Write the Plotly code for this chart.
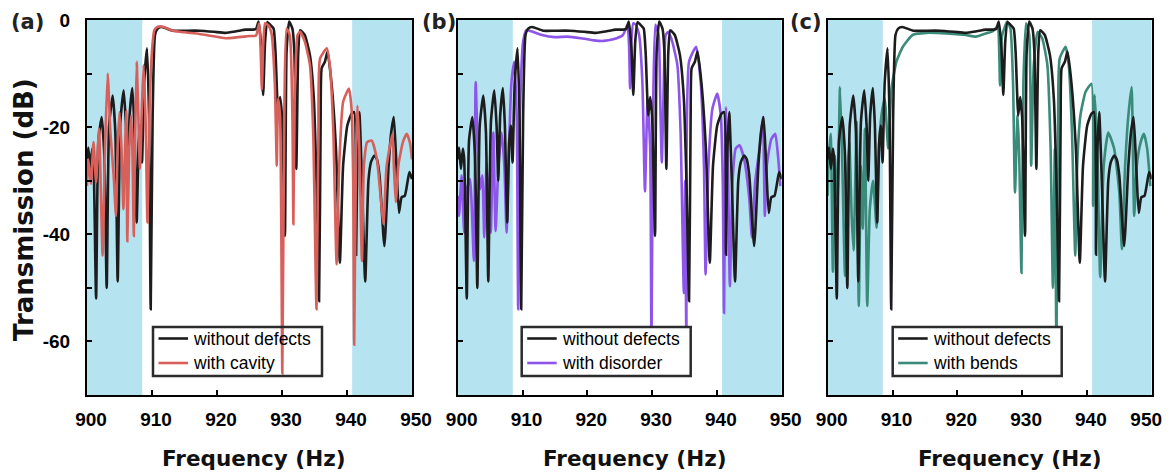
import plotly.graph_objects as go

# ---------------- data ----------------
freq_black = [900.0, 900.2, 900.5, 900.8, 901.0, 901.4, 901.75, 902.26, 902.67, 903.03, 903.4, 903.95,
              904.36, 904.72, 905.13, 905.64, 906.0, 906.26, 906.56, 906.97, 907.28, 907.64, 907.95,
              908.2, 908.46, 908.8, 909.23, 909.54, 909.8, 910.1, 910.46, 910.87, 911.5, 913.2, 915.0,
              917.3, 919.5, 921.3, 923.0, 924.4, 925.5, 926.0, 926.4, 926.8, 927.1, 927.4, 927.75,
              928.2, 928.7, 929.0, 929.4, 929.7, 930.0, 930.45, 930.7, 931.1, 931.6, 931.9, 932.2,
              932.5, 932.8, 933.5, 934.3, 934.9, 935.3, 935.7, 935.95, 936.1, 936.6, 937.0, 937.6,
              938.3, 938.9, 939.4, 940.05, 940.7, 941.1, 941.4, 941.6, 941.9, 942.3, 942.8, 943.3,
              943.7, 944.2, 944.6, 945.0, 945.75, 946.4, 946.8, 947.2, 947.6, 948.0, 948.4, 948.9,
              949.6, 950.0]
trans_black = [-26, -23.8, -27.8, -24, -26, -52, -22.5, -18.1, -25.3, -50, -19.7, -14.1,
               -21, -48.8, -19, -13.1, -19.7, -30, -17.8, -12.7, -19.7, -37.8, -22.8,
               -19.7, -26.6, -11.6, -5.3, -17.8, -54, -17.8, -2.8, -1.6, -1.3, -2.0, -2.0,
               -2.0, -2.2, -2.4, -2.1, -1.8, -1.8, -1.7, -0.3, -5, -14, -4, -0.4,
               -0.9, -1.6, -6, -17.8, -14.4, -18, -40.3, -6, -0.3, -1.6, -6, -27.8,
               -6, -1.9, -2.8, -6.6, -14.7, -30, -52.5, -17.8, -9, -7.8, -5.9, -11.6,
               -24, -45.3, -27.2, -19.7, -17.5, -17.2, -43.8, -25, -17.2, -30, -48.8, -30,
               -26.5, -25.3, -26, -29, -42.2, -27.2, -21, -18.1, -27, -36, -33.1, -32.8,
               -28.4, -29.7]

freq_cavity = [900.0, 900.2, 900.6, 901.0, 901.4, 901.85, 902.4, 902.77, 903.18, 903.6, 904.1, 904.46,
               904.7, 905.0, 905.3, 905.6, 905.85, 906.05, 906.2, 906.5, 906.8, 907.0, 907.2, 907.4,
               907.64, 907.9, 908.15, 908.4, 908.7, 909.0, 909.3, 909.6, 909.95, 910.36, 910.9, 911.7,
               913.2, 915.0, 917.3, 919.3, 921.3, 923.3, 925.0, 926.0, 926.5, 926.7, 926.9, 927.1,
               927.4, 927.9, 928.4, 928.9, 929.2, 929.4, 929.7, 930.05, 930.35, 930.7, 931.2, 931.6,
               931.75, 931.95, 932.4, 932.8, 933.5, 934.3, 934.8, 935.3, 935.6, 935.85, 936.9, 937.4,
               937.9, 938.4, 938.8, 939.4, 940.3, 940.7, 940.95, 941.1, 941.4, 941.6, 941.9, 942.3,
               942.6, 943.1, 943.8, 944.6, 945.2, 945.6, 946.1, 947.0, 947.2, 947.5, 947.9, 948.6,
               949.2, 949.7, 950.0]
trans_cavity = [-31, -26, -30.6, -22.8, -30.3, -20.3, -44, -24, -10, -21, -29, -36.6,
                -24, -17.2, -24, -35.3, -24, -16.9, -41.3, -24, -17.8, -25, -40.3, -22,
                -7.8, -18, -27.8, -18, -8.4, -18, -37.8, -18, -6.6, -1.9, -1.25, -1.25,
                -2.0, -2.3, -2.6, -3.0, -3.4, -3.2, -3.0, -2.9, -0.6, -5, -13, -5,
                -0.6, -1.0, -2.6, -12, -27.2, -14.7, -18, -66, -18, -1.6, -2.8, -18,
                -38.1, -15, -2.8, -2.2, -4, -8.4, -21, -54, -21, -7.2, -5.3, -9,
                -21, -45.6, -27.2, -15.3, -12.8, -16.6, -30, -60.6, -24, -16, -24, -45,
                -27.2, -22.8, -22.5, -26, -33.4, -38.1, -27.2, -21.25, -27, -34, -27.2, -22.8,
                -21.25, -23, -26]

freq_disorder = [900.0, 900.2, 900.6, 901.0, 901.4, 901.9, 902.5, 902.77, 903.1, 903.45, 903.8, 904.1,
                 904.46, 904.8, 905.1, 905.5, 905.85, 906.26, 906.77, 907.2, 907.54, 907.9, 908.3, 908.72,
                 909.1, 909.33, 909.6, 910.1, 910.6, 911.1, 913.0, 915.0, 917.0, 919.0, 921.0, 922.5,
                 924.0, 925.5, 926.2, 926.45, 926.6, 926.8, 927.1, 927.5, 928.0, 928.5, 928.9, 929.3,
                 929.7, 929.9, 930.15, 930.5, 931.0, 931.3, 931.5, 931.75, 932.1, 932.5, 933.1, 933.9,
                 934.4, 934.9, 935.1, 935.3, 935.7, 936.8, 937.5, 938.0, 938.25, 938.7, 939.3, 940.05,
                 940.6, 940.9, 941.1, 941.3, 941.4, 941.7, 942.0, 942.4, 942.9, 943.5, 944.2, 945.0,
                 945.4, 945.9, 946.7, 947.1, 947.4, 947.7, 948.4, 949.0, 949.4, 949.8]
trans_disorder = [-32.8, -36.6, -29, -39.7, -31.6, -29.7, -45, -11.6, -24, -31.6, -29, -40.6,
                  -26.6, -33.4, -39.7, -21, -39.4, -27.8, -21, -27.2, -39.7, -24, -11.6, -7.8,
                  -17.8, -54, -17.8, -4, -1.9, -2.0, -2.8, -3.2, -3.1, -3.4, -3.8, -3.9,
                  -3.6, -2.8, -0.9, -5, -12.8, -4, -0.6, -0.9, -2.8, -11.6, -32, -14.7,
                  -24, -62, -17.8, -0.9, -2.8, -17.8, -26.6, -14.7, -2.8, -2.2, -4, -8.4,
                  -21, -51, -30, -62, -7.8, -5, -11.6, -27, -47.5, -27.2, -16.6, -13.75,
                  -17.8, -30, -54.7, -24, -16.25, -27.2, -49.7, -30.3, -24, -23.4, -26, -33.4,
                  -40.6, -30.3, -22.8, -18.1, -36.6, -27.2, -22.2, -21.25, -25, -31]

freq_bends = [900.0, 900.1, 900.46, 900.8, 901.1, 901.5, 901.9, 902.26, 902.67, 903.0, 903.33, 903.7,
              904.0, 904.46, 904.8, 905.13, 905.4, 905.74, 906.1, 906.5, 907.0, 907.54, 907.9, 908.3,
              908.8, 909.33, 909.85, 910.6, 911.6, 913.1, 915.2, 918.3, 921.3, 922.9, 924.4, 925.5,
              926.2, 926.6, 926.9, 927.7, 928.2, 928.6, 928.9, 929.3, 929.55, 929.9, 930.2, 930.6,
              931.1, 931.4, 931.8, 932.4, 933.1, 933.9, 934.4, 934.75, 935.05, 935.3, 935.6, 935.8,
              936.7, 937.2, 937.7, 938.2, 938.5, 939.0, 939.8, 940.7, 940.95, 941.2, 941.6, 942.05,
              942.6, 943.3, 944.2, 945.0, 945.4, 945.9, 946.4, 946.9, 947.1, 947.3, 947.7, 948.3,
              948.8, 949.3, 949.8]
trans_bends = [-32.8, -27, -21.25, -47, -25.3, -34, -12.5, -27.2, -47.8, -30.3, -22.8, -36.6,
               -43, -19, -53.4, -27.2, -39, -20.3, -53.4, -35.3, -30, -38.75, -24, -17.8,
               -14.7, -24, -12.8, -7.8, -5, -2.8, -2.4, -2.5, -2.8, -3.1, -2.5, -2.1,
               -1.2, -12.2, -3, -0.3, -1.6, -11.6, -32.2, -17.8, -25, -47.2, -11.6, -0.6,
               -2.8, -27.2, -8.4, -2.2, -3.4, -8.4, -24, -50, -24, -62, -11.6, -7.2,
               -5, -8.4, -21, -44, -27.2, -17.8, -13.4, -11.9, -34.7, -14, -24, -48,
               -27.2, -21, -24, -32.2, -42.8, -27.2, -17.8, -12.5, -24, -36.6, -27.2, -22.8,
               -21.25, -24, -31]

x_tick_vals = [900, 910, 920, 930, 940, 950]
x_tick_text = ["900", "910", "920", "930", "940", "950"]
y_tick_vals = [-60, -50, -40, -30, -20, -10, 0]
y_tick_text = ["-60", "", "-40", "", "-20", "", "0"]
band_edges = [908.5, 940.8]
panel_labels = ["(a)", "(b)", "(c)"]
ref_name = "without defects"
defect_names = ["with cavity", "with disorder", "with bends"]

# ---------------- styling / layout ----------------
PAGE_OFF = 8                      # default body margin of the html page
W, H = 1172, 473 - PAGE_OFF       # figure starts at page (8, 8)


def fx(px):  # page pixel -> paper fraction (x)
    return (px - PAGE_OFF) / W


def fy(py):  # page pixel -> paper fraction (y)
    return 1 - (py - PAGE_OFF) / H


panel_px = [(87.0, 412.0), (457.7, 781.7), (827.7, 1151.7)]
top_px, bot_px = 20.0, 395.0
colors = ["#d7605b", "#8e55ea", "#3b8b7b"]
black = "#1c1c1c"
shade = "#b5e3f0"
legend_left_px = [153.0, 521.7, 892.7]
legend_w = 169.0
legend_top_px, legend_bot_px = 327.0, 376.0
legend_rows_py = [338.5, 363.0]
xtitle_center_px = [254.0, 635.0, 1010.0]
xtitle_py = 458.0
label_left_px = [9.0, 420.0, 788.0]

defect_freqs = [freq_cavity, freq_disorder, freq_bends]
defect_trans = [trans_cavity, trans_disorder, trans_bends]

tick_font = dict(family="Liberation Sans, Arial, sans-serif", size=19, color="black", weight="bold")
leg_font = dict(family="Liberation Sans, Arial, sans-serif", size=17.5, color="black")
line_style = dict(width=2.6, shape="spline", smoothing=0.5)
fig = go.Figure()
shapes, annotations = [], []
layout = dict(width=W, height=H, margin=dict(l=0, r=0, t=0, b=0, autoexpand=False),
              paper_bgcolor="white", plot_bgcolor="white", showlegend=False)

for i in range(3):
    sfx = "" if i == 0 else str(i + 1)
    xa, ya = "x" + sfx, "y" + sfx
    black_tr = go.Scatter(x=freq_black, y=trans_black, mode="lines", name=ref_name,
                          line=dict(color=black, **line_style), xaxis=xa, yaxis=ya)
    col_tr = go.Scatter(x=defect_freqs[i], y=defect_trans[i], mode="lines", name=defect_names[i],
                        line=dict(color=colors[i], **line_style), xaxis=xa, yaxis=ya)
    if i == 0:
        fig.add_trace(black_tr); fig.add_trace(col_tr)
    else:
        fig.add_trace(col_tr); fig.add_trace(black_tr)

    # last panel: pull the right-most label slightly inward so it stays inside the window
    ttext = list(x_tick_text)
    if i == 2:
        ttext[-1] = ttext[-1] + "\u2002\u2002"

    x0, x1 = panel_px[i]
    layout["xaxis" + sfx] = dict(
        domain=[fx(x0), fx(x1)], range=[900, 950], anchor=ya, automargin=False,
        tickvals=x_tick_vals, ticktext=ttext, ticks="inside", ticklen=5, tickwidth=2,
        tickcolor="black", showline=True, linecolor="black", linewidth=2, mirror=True,
        showgrid=False, zeroline=False, tickfont=tick_font, ticklabeloverflow="allow",
        ticklabelstandoff=6, ticklabelshift=4)
    layout["yaxis" + sfx] = dict(
        domain=[fy(bot_px), fy(top_px)], range=[-70, 0], anchor=xa, automargin=False,
        tickvals=y_tick_vals, ticktext=y_tick_text, ticks="inside", ticklen=5, tickwidth=2,
        tickcolor="black", showline=True, linecolor="black", linewidth=2, mirror=True,
        showgrid=False, zeroline=False, tickfont=tick_font, showticklabels=(i == 0),
        ticklabelstandoff=11)

    # blue shaded band-gap regions
    shapes.append(dict(type="rect", xref=xa, yref=ya + " domain", x0=900, x1=band_edges[0],
                       y0=0, y1=1, fillcolor=shade, line=dict(width=0), layer="below"))
    shapes.append(dict(type="rect", xref=xa, yref=ya + " domain", x0=band_edges[1], x1=950,
                       y0=0, y1=1, fillcolor=shade, line=dict(width=0), layer="below"))

    # legend box (drawn as shapes + text)
    lx = legend_left_px[i]
    shapes.append(dict(type="rect", xref="paper", yref="paper",
                       x0=fx(lx), x1=fx(lx + legend_w), y0=fy(legend_bot_px), y1=fy(legend_top_px),
                       fillcolor="rgba(255,255,255,0)" if i == 0 else "white",
                       line=dict(color="#2b2b2b", width=2.5), layer="above"))
    for r, (nm, col) in enumerate([(ref_name, black), (defect_names[i], colors[i])]):
        shapes.append(dict(type="line", xref="paper", yref="paper",
                           x0=fx(lx + 5.5), x1=fx(lx + 35), y0=fy(legend_rows_py[r]),
                           y1=fy(legend_rows_py[r]), line=dict(color=col, width=2.6), layer="above"))
        annotations.append(dict(text=nm, xref="paper", yref="paper", x=fx(lx + 38),
                                y=fy(legend_rows_py[r]), xanchor="left", yanchor="middle",
                                showarrow=False, font=leg_font))

    annotations.append(dict(text=panel_labels[i], xref="paper", yref="paper",
                            x=fx(label_left_px[i]), y=fy(22), xanchor="left", yanchor="middle",
                            showarrow=False,
                            font=dict(family="DejaVu Sans", size=21, color="#222", weight="bold")))
    annotations.append(dict(text="Frequency (Hz)", xref="paper", yref="paper",
                            x=fx(xtitle_center_px[i]), y=fy(xtitle_py), xanchor="center",
                            yanchor="middle", showarrow=False,
                            font=dict(family="DejaVu Sans", size=21.5, color="#111", weight="bold")))

annotations.append(dict(text="Transmission (dB)", xref="paper", yref="paper",
                        x=fx(24), y=fy(210), xanchor="center", yanchor="middle",
                        textangle=-90, showarrow=False,
                        font=dict(family="DejaVu Sans", size=26, color="#111", weight="bold")))

layout["shapes"] = shapes
layout["annotations"] = annotations
fig.update_layout(**layout)
fig.write_html("out.html")
